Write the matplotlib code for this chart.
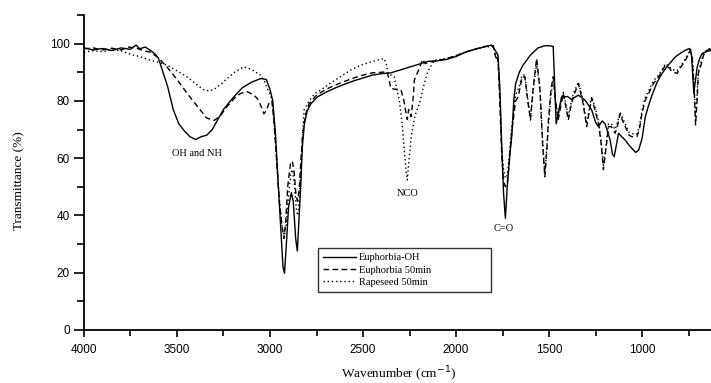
import matplotlib
matplotlib.use("Agg")
import matplotlib.pyplot as plt
from matplotlib.ticker import MultipleLocator

# Euphorbia-OH (solid)
wn_oh = [4000, 3950, 3900, 3850, 3800, 3750, 3720, 3700, 3670, 3640, 3620, 3600,
         3570, 3550, 3520, 3490, 3460, 3430, 3400, 3370, 3340, 3310, 3280, 3250,
         3200, 3150, 3100, 3050, 3020, 3000, 2985, 2970, 2955, 2940, 2930, 2922,
         2912, 2900, 2885, 2875, 2862, 2853, 2843, 2835, 2826, 2815, 2800, 2780,
         2745, 2700, 2650, 2600, 2550, 2500, 2450, 2400, 2350, 2300, 2250, 2200,
         2150, 2100, 2050, 2000, 1950, 1900, 1850, 1810, 1790, 1775, 1765, 1755,
         1745, 1735, 1725, 1710, 1700, 1690, 1680, 1660, 1640, 1600, 1560, 1520,
         1490, 1478, 1470, 1462, 1450, 1433, 1400, 1380, 1343, 1307, 1271, 1250,
         1235, 1215, 1199, 1185, 1172, 1160, 1150, 1140, 1127, 1110, 1091, 1070,
         1055, 1035, 1019, 1000, 983, 965, 947, 920, 893, 860, 821, 790, 767, 745,
         735, 727, 722, 716, 704, 690, 677, 650, 623]
t_oh = [98.5, 97.8, 98.3, 97.6, 98.5, 98.0, 99.5, 98.2, 98.8, 97.5, 96.5, 95,
        89, 85, 77, 72, 69.5, 67.5, 66.5, 67.5, 68, 70, 73.5, 77,
        81, 84.5, 86.5, 87.8, 87.5, 84, 80, 68, 50, 33, 22, 19.8,
        30, 43, 48, 45, 32, 27.6, 40, 50, 64, 72, 76.5, 79,
        81.4, 83, 84.5, 85.8, 87, 88, 89, 89.5, 89.8, 90.8, 91.8, 92.8,
        93.8, 94, 94.5, 95.5, 97, 98, 98.8, 99.5, 97.7, 96, 85, 65,
        48, 39, 50, 62, 68, 80, 86, 90, 92.5, 96, 98.5, 99.3,
        99.2, 99, 85, 72, 76, 81.4, 81.5, 80.5, 82, 80.3, 76.8, 72.5,
        71, 73, 72, 69, 66.3, 61.5, 60.5, 64, 68.7, 67.5, 66.3, 64.5,
        63.4, 62, 62.8, 67, 74.5, 78.5, 82, 86.5, 89.6, 92.5, 95.4, 96.8, 97.7, 98.3,
        96, 88, 82.6, 86, 91.9, 95, 96.6, 97.3, 97.7]

# Euphorbia 50min (dashed)
wn_eu50 = [4000, 3950, 3900, 3850, 3800, 3760, 3720, 3680, 3640, 3600, 3554, 3500,
           3464, 3420, 3374, 3340, 3300, 3270, 3231, 3190, 3158, 3123, 3090, 3069,
           3050, 3033, 3020, 3006, 2990, 2980, 2965, 2950, 2935, 2925, 2915, 2905,
           2890, 2880, 2870, 2860, 2852, 2843, 2835, 2825, 2810, 2790, 2750, 2700,
           2650, 2600, 2550, 2500, 2450, 2400, 2370, 2350, 2320, 2296, 2280, 2269,
           2262, 2255, 2242, 2232, 2224, 2200, 2180, 2165, 2150, 2100, 2050, 2000,
           1950, 1900, 1850, 1800, 1790, 1783, 1775, 1765, 1755, 1745, 1735, 1725,
           1715, 1702, 1680, 1666, 1645, 1630, 1615, 1600, 1585, 1567, 1549, 1535,
           1523, 1510, 1505, 1490, 1478, 1465, 1451, 1438, 1424, 1410, 1397, 1383,
           1370, 1343, 1320, 1298, 1285, 1271, 1250, 1235, 1220, 1208, 1195, 1181,
           1165, 1145, 1130, 1118, 1105, 1091, 1070, 1055, 1028, 1015, 1001, 985,
           965, 940, 911, 875, 855, 839, 812, 790, 767, 740, 730, 720, 713, 705,
           698, 686, 670, 650, 623]
t_eu50 = [98.2, 98.5, 97.8, 98.4, 97.8, 98.8, 98.5, 97.5, 97, 95, 91.9, 87.5,
          84.3, 80.5, 76.8, 74, 73.2, 74.5, 78, 81, 82.6, 83.2, 82.2, 80.9,
          78.5, 75.5, 76.5, 79.1, 80, 74, 60, 45, 36, 32, 38, 50,
          58, 59, 55, 47, 45, 49, 58, 68, 75, 79, 82, 84,
          85.5, 86.8, 88, 89, 89.8, 90, 90.2, 84.3, 84, 83.8, 80, 75.7,
          73.5, 77, 74.5, 80, 87.3, 91, 94.5, 93, 93.5, 94, 94.8, 95.8,
          97, 98, 99, 99.3, 96, 94.2, 95, 80, 62, 52, 50, 51,
          58, 68.6, 80, 81.4, 88.4, 88.4, 80, 73.3, 85, 94.8, 83.8, 65,
          53.5, 65, 72.2, 84, 88.4, 80, 73.3, 78, 82.6, 78, 73.3, 78,
          81.4, 86.1, 80, 71, 76, 80.9, 76, 72.1, 65, 56, 63, 71,
          71, 68.7, 72, 75.6, 73, 71, 68, 67.5, 67.5, 70, 75.6, 80,
          82.6, 86, 88.4, 92.5, 91.5, 90.2, 89.6, 92, 94.2, 97.7, 94, 83, 71.6, 80,
          89.6, 92, 96, 97.7, 98.2]

# Rapeseed 50min (dotted)
wn_rp50 = [4000, 3950, 3900, 3850, 3800, 3760, 3734, 3700, 3644, 3600, 3554, 3500,
           3446, 3400, 3360, 3330, 3300, 3260, 3231, 3190, 3141, 3100, 3051, 3030,
           3015, 3000, 2988, 2975, 2960, 2945, 2930, 2922, 2912, 2900, 2888, 2878,
           2868, 2858, 2850, 2840, 2830, 2817, 2790, 2760, 2727, 2680, 2620, 2560,
           2511, 2450, 2387, 2375, 2367, 2333, 2305, 2290, 2278, 2268, 2262, 2255,
           2240, 2220, 2197, 2175, 2152, 2117, 2080, 2050, 2000, 1950, 1900, 1850,
           1800, 1790, 1782, 1775, 1765, 1755, 1745, 1735, 1725, 1715, 1702, 1680,
           1660, 1645, 1630, 1615, 1600, 1585, 1567, 1549, 1535, 1523, 1510, 1490,
           1478, 1465, 1451, 1438, 1424, 1410, 1397, 1383, 1370, 1343, 1320, 1298,
           1285, 1271, 1250, 1235, 1220, 1208, 1195, 1181, 1165, 1145, 1130, 1118,
           1105, 1091, 1070, 1055, 1028, 1015, 1001, 985, 965, 940, 911, 875,
           855, 839, 812, 790, 767, 740, 730, 720, 713, 705, 698, 686,
           670, 650, 623]
t_rp50 = [97, 97.5, 97.2, 97.8, 97.5, 96.5, 96, 95.5, 94.2, 93.5, 92.5, 90.5,
          88.4, 86, 84, 83.5, 84, 86, 87.8, 90, 91.9, 91, 89, 87,
          84.3, 82.5, 80, 70, 55, 42, 34, 33, 37, 47, 55, 56,
          50, 42, 40, 48, 62, 76.8, 80, 82.5, 83.8, 86, 88.5, 91,
          92.5, 93.8, 94.8, 93, 89.6, 88.4, 80.3, 72, 62.8, 55, 52.4, 58,
          68, 75, 79, 85, 90.2, 94.2, 94.5, 94.8, 95.8, 97, 98, 98.8,
          99, 96.5, 95, 95, 82, 64, 56, 53, 54, 60, 70, 82,
          85, 89, 89, 81, 74.5, 84, 93.1, 84, 66, 54.5, 66, 82,
          87, 80, 74.5, 79, 83, 79, 74.5, 79, 82.5, 86.5, 81, 72,
          77, 81.5, 77, 73, 66, 57.5, 64, 72, 72, 70, 73, 76,
          74, 72, 69, 68.5, 68.5, 71, 76.5, 81, 83.5, 87, 89, 93,
          92, 91, 90.5, 92.5, 94.8, 98, 95, 85, 74, 82, 90, 93,
          96.5, 98, 98.5]

fig = plt.figure(figsize=(7.11, 3.83), dpi=100)
ax = fig.add_axes([0.118, 0.1384, 0.882, 0.8225])

ax.plot(wn_oh, t_oh, color="black", linewidth=1.0, label="Euphorbia-OH")
ax.plot(wn_eu50, t_eu50, color="black", linewidth=1.0, linestyle=(0, (4, 2.5)),
        label="Euphorbia 50min")
ax.plot(wn_rp50, t_rp50, color="black", linewidth=1.0, linestyle=(0, (1, 2)),
        label="Rapeseed 50min")

ax.set_xlim(4000, 630)
ax.set_ylim(0, 110)
ax.xaxis.set_major_locator(MultipleLocator(500))
ax.xaxis.set_minor_locator(MultipleLocator(250))
ax.yaxis.set_minor_locator(MultipleLocator(10))
ax.set_yticks([0, 20, 40, 60, 80, 100])

ax.spines[["top", "right"]].set_visible(False)
ax.spines[["left", "bottom"]].set_linewidth(1.3)
ax.tick_params(axis="both", which="both", direction="out", width=1.2,
               labelsize=8.5, labelfontfamily="Liberation Sans")
ax.tick_params(axis="x", which="major", length=5, pad=5)
ax.tick_params(axis="x", which="minor", length=4)
ax.tick_params(axis="y", which="major", length=7, pad=3)
ax.tick_params(axis="y", which="minor", length=5)

serif = "Liberation Serif"
ax.set_ylabel("Transmittance (%)", family=serif, fontsize=9.5)
ax.set_xlabel("Wavenumber (cm$^{-1}$)", family=serif, fontsize=9.5)
ax.yaxis.set_label_coords(-0.094, 0.473)
ax.xaxis.set_label_coords(0.502, -0.11)

ax.text(3390, 61.5, "OH and NH", family=serif, fontsize=7.5, ha="center", va="center")
ax.text(2263, 47.5, "NCO", family=serif, fontsize=7.5, ha="center", va="center")
ax.text(1742, 35.5, "C=O", family=serif, fontsize=7.5, ha="center", va="center")

leg = ax.legend(loc="lower left", bbox_to_anchor=(0.365, 0.105, 0.292, 0.178),
                mode="expand", frameon=True, fancybox=False, edgecolor="black",
                prop={"family": serif, "size": 7.5}, handlelength=3.2,
                handletextpad=0.3, borderpad=0.45, labelspacing=0.3)
leg.get_frame().set_linewidth(1.0)

plt.savefig("out.png", dpi=100)
plt.close(fig)
